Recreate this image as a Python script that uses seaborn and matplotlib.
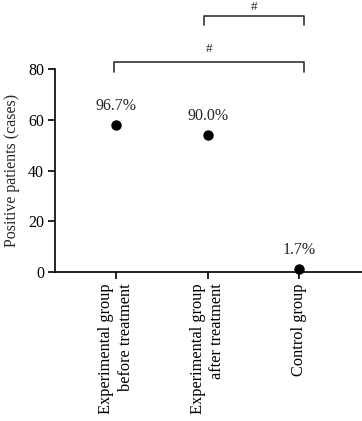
import matplotlib
matplotlib.use("Agg")
import matplotlib.pyplot as plt
import seaborn as sns
import pandas as pd

groups = ["Experimental group\nbefore treatment", "Experimental group\nafter treatment", "Control group"]
cases = [58, 54, 1]
pct_labels = ["96.7%", "90.0%", "1.7%"]
yticks = [0, 20, 40, 60, 80]
# significance brackets: (start group idx, end group idx, label, foot y, top y, label y)
brackets = [(0, 2, "#", 79, 82.7, 87.8), (1, 2, "#", 97.2, 101, 104.4)]

sns.set_style("ticks")
plt.rcParams["font.family"] = ["Liberation Serif", "DejaVu Serif"]

df = pd.DataFrame({"group": groups, "cases": cases})

fig = plt.figure(figsize=(3.62, 4.21), dpi=100)
ax = fig.add_axes([0.152, 0.354, 0.848, 0.482])

sns.stripplot(data=df, x="group", y="cases", jitter=False, color="black",
              size=7.5, ax=ax, clip_on=False, zorder=5)

ax.set_ylim(0, 80)
ax.set_xlim(-0.67, 2.69)
ax.set_yticks(yticks)
ax.set_yticklabels([str(t) for t in yticks], fontsize=11.5)
ax.set_xticks(range(len(groups)))
ax.set_xticklabels(groups, rotation=90, fontsize=11.8, ma="right", linespacing=1.3)
ax.set_xlabel("")
ax.set_ylabel("Positive patients (cases)", fontsize=11.5, labelpad=6)
ax.tick_params(axis="both", length=5, width=1.2, color="black", labelcolor="black", pad=3)
for s in ["top", "right"]:
    ax.spines[s].set_visible(False)
for s in ["left", "bottom"]:
    ax.spines[s].set_linewidth(1.2)
    ax.spines[s].set_color("black")

for i, (v, lab) in enumerate(zip(cases, pct_labels)):
    ax.annotate(lab, (i, v), xytext=(0, 8), textcoords="offset points",
                ha="center", va="bottom", fontsize=11.5, annotation_clip=False)

for (a, b, lab, y0, y1, yl) in brackets:
    xa = a - 0.02 if a == 0 else a - 0.04
    xb = b + 0.05
    ax.plot([xa, xa, xb, xb], [y0, y1, y1, y0], color="#333333", lw=1.2,
            clip_on=False)
    ax.text((xa + xb) / 2, yl, lab, ha="center", va="center", fontsize=9.5)

fig.savefig("out.png", dpi=100)
